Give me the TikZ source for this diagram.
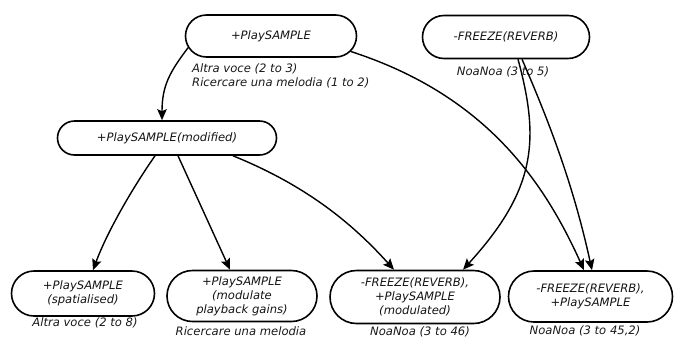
\documentclass[tikz,border=0pt]{standalone}
\usepackage{fontspec}
\setmainfont{DejaVu Sans}
\usetikzlibrary{shapes.misc,arrows.meta}
\newcommand\diafont{\fontsize{11.6}{14}\selectfont\itshape}
\begin{document}
\begin{tikzpicture}[x=1pt,y=-1pt,
  box/.style={rounded rectangle, draw, line width=1.6pt, inner sep=0pt, align=center, font=\diafont, text=black!92},
  lbl/.style={inner sep=0pt, font=\diafont, text=black!90},
  edge/.style={draw, line width=1.4pt, -{Stealth[length=11pt,width=9.5pt,inset=2pt]}}]
\useasboundingbox (0,0) rectangle (674,338);
% nodes
\node[box, minimum width=171pt, minimum height=42pt] (ps) at (271,36) {+PlaySAMPLE};
\node[box, minimum width=167pt, minimum height=43pt] (fr) at (506,37) {-FREEZE(REVERB)};
\node[box, minimum width=219pt, minimum height=34pt] (psm) at (167,138) {+PlaySAMPLE(modified)};
\node[box, minimum width=143pt, minimum height=45pt] (sp) at (83,293.5) {+PlaySAMPLE\\(spatialised)};
\node[box, minimum width=150pt, minimum height=51pt] (mg) at (242,296) {+PlaySAMPLE\\(modulate\\playback gains)};
\node[box, minimum width=170pt, minimum height=53pt] (md) at (415,297) {-FREEZE(REVERB),\\+PlaySAMPLE\\(modulated)};
\node[box, minimum width=164pt, minimum height=51pt] (rt) at (590.5,296.5) {-FREEZE(REVERB),\\+PlaySAMPLE};
% labels
\node[lbl, anchor=west, align=left] (l1) at (192,76) {Altra voce (2 to 3)\\Ricercare una melodia (1 to 2)};
\node[lbl] (l2) at (503,72) {NoaNoa (3 to 5)};
\node[lbl] (l3) at (85,323) {Altra voce (2 to 8)};
\node[lbl] (l4) at (241,331) {Ricercare una melodia};
\node[lbl] (l5) at (420,331.5) {NoaNoa (3 to 46)};
\node[lbl] (l6) at (585,331) {NoaNoa (3 to 45,2)};
% edges
\draw[edge] (ps.188) .. controls +(-18,24) and +(0,-35) .. ([xshift=-5pt]psm.north);
\draw[edge] (ps.-11.5) .. controls +(133,43) and +(-41,-91) .. ([xshift=-6.5pt]rt.north);
\draw[edge] ([xshift=12pt]fr.south) .. controls +(22,81) and +(73,-80) .. ([xshift=48pt]md.north);
\draw[edge] ([xshift=16pt]fr.south) .. controls +(34,78) and +(-16,-73) .. ([xshift=1.5pt]rt.north);
\draw[edge] ([xshift=-12pt]psm.south) .. controls +(-23,33) and +(14,-38) .. ([xshift=10pt]sp.north);
\draw[edge] ([xshift=11pt]psm.south) -- ([xshift=-12pt]mg.north);
\draw[edge] ([xshift=66pt]psm.south) .. controls +(79,32) and +(-37,-41) .. ([xshift=-21pt]md.north);
\end{tikzpicture}
\end{document}
